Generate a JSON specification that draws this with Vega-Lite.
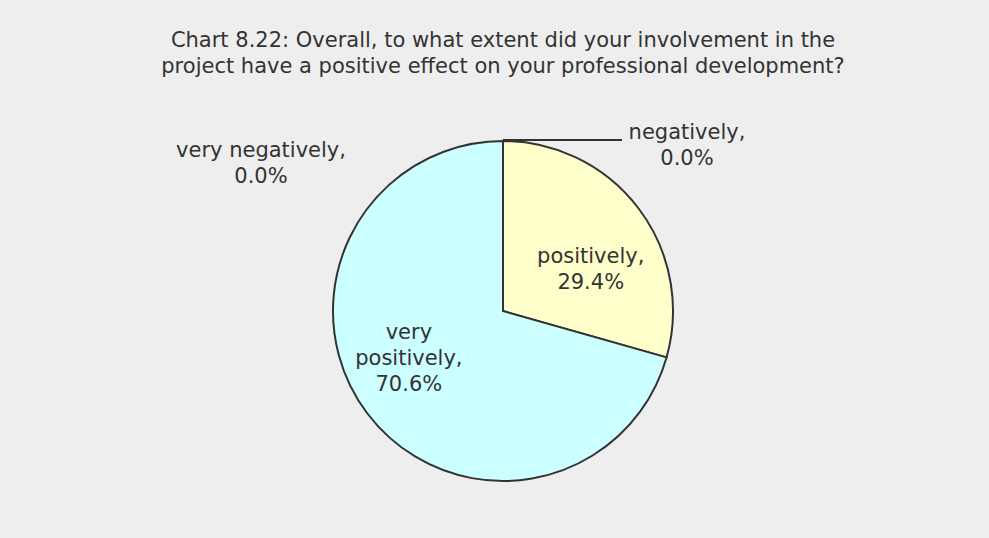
{
  "$schema": "https://vega.github.io/schema/vega-lite/v6.json",
  "width": 972,
  "height": 454,
  "autosize": "none",
  "padding": {"left": 17, "top": 84, "right": 0, "bottom": 0},
  "background": "#eeeeee",
  "config": {"view": {"stroke": null}},
  "title": {
    "text": ["Chart 8.22: Overall, to what extent did your involvement in the", "project have a positive effect on your professional development?"],
    "font": "DejaVu Sans",
    "fontSize": 21,
    "fontWeight": "normal",
    "color": "#333333",
    "lineHeight": 26,
    "anchor": "middle",
    "offset": 7
  },
  "data": {
    "values": [
      {"category": "positively", "value": 29.4, "order": 1, "label": "positively,\n29.4%"},
      {"category": "very positively", "value": 70.6, "order": 2, "label": "very\npositively,\n70.6%"},
      {"category": "negatively", "value": 0.0, "order": 3, "label": "negatively,\n0.0%"},
      {"category": "very negatively", "value": 0.0, "order": 4, "label": "very negatively,\n0.0%"}
    ]
  },
  "layer": [
    {
      "transform": [{"filter": "datum.value > 0"}],
      "mark": {"type": "arc", "radius": 170, "stroke": "#333333", "strokeWidth": 2},
      "encoding": {
        "theta": {"field": "value", "type": "quantitative", "stack": true, "scale": {"domain": [0, 100]}},
        "order": {"field": "order", "type": "quantitative"},
        "color": {
          "field": "category",
          "type": "nominal",
          "scale": {"domain": ["positively", "very positively", "negatively", "very negatively"], "range": ["#ffffcc", "#ccffff", "#ffcc99", "#ccccff"]},
          "legend": null
        }
      }
    },
    {
      "mark": {"type": "rule", "stroke": "#333333", "strokeWidth": 2},
      "encoding": {
        "x": {"datum": 0, "type": "quantitative", "scale": {"domain": [-2.8588, 2.8588]}, "axis": null},
        "x2": {"datum": 0.7},
        "y": {"datum": 1.006, "type": "quantitative", "scale": {"domain": [-1.3353, 1.3353]}, "axis": null}
      }
    },
    {
      "mark": {"type": "text", "radius": 110, "dy": 12, "font": "DejaVu Sans", "fontSize": 21, "color": "#333333", "lineBreak": "\n", "lineHeight": 26, "baseline": "middle", "align": "center"},
      "encoding": {
        "theta": {"field": "value", "type": "quantitative", "stack": true, "scale": {"domain": [0, 100]}},
        "order": {"field": "order", "type": "quantitative"},
        "text": {"condition": {"test": "datum.category === 'positively'", "field": "label"}, "value": ""}
      }
    },
    {
      "mark": {"type": "text", "radius": 118, "dy": -49, "font": "DejaVu Sans", "fontSize": 21, "color": "#333333", "lineBreak": "\n", "lineHeight": 26, "baseline": "middle", "align": "center"},
      "encoding": {
        "theta": {"field": "value", "type": "quantitative", "stack": true, "scale": {"domain": [0, 100]}},
        "order": {"field": "order", "type": "quantitative"},
        "text": {"condition": {"test": "datum.category === 'very positively'", "field": "label"}, "value": ""}
      }
    },
    {
      "mark": {"type": "text", "radius": 170, "dx": 184, "dy": -8, "font": "DejaVu Sans", "fontSize": 21, "color": "#333333", "lineBreak": "\n", "lineHeight": 26, "baseline": "middle", "align": "center"},
      "encoding": {
        "theta": {"field": "value", "type": "quantitative", "stack": true, "scale": {"domain": [0, 100]}},
        "order": {"field": "order", "type": "quantitative"},
        "text": {"condition": {"test": "datum.category === 'negatively'", "field": "label"}, "value": ""}
      }
    },
    {
      "mark": {"type": "text", "radius": 170, "dx": -242, "dy": 10, "font": "DejaVu Sans", "fontSize": 21, "color": "#333333", "lineBreak": "\n", "lineHeight": 26, "baseline": "middle", "align": "center"},
      "encoding": {
        "theta": {"field": "value", "type": "quantitative", "stack": true, "scale": {"domain": [0, 100]}},
        "order": {"field": "order", "type": "quantitative"},
        "text": {"condition": {"test": "datum.category === 'very negatively'", "field": "label"}, "value": ""}
      }
    }
  ]
}
